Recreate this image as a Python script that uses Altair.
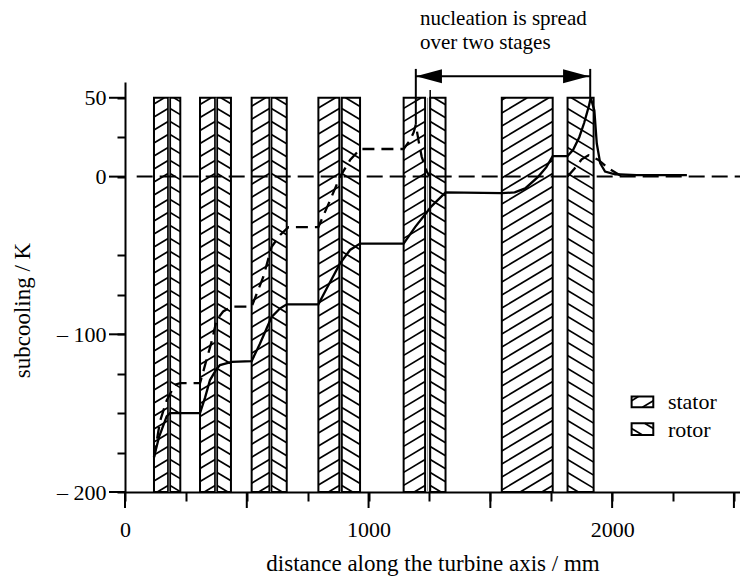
import altair as alt
import pandas as pd

# ---------------- data ----------------
# blade rows, axial positions in mm
stator_start = [119, 308, 520, 794, 1144, 1547]
stator_end   = [177, 370, 593, 880, 1232, 1756]
rotor_start  = [185, 378, 601, 890, 1253, 1817]
rotor_end    = [227, 435, 664, 965, 1316, 1924]
blade_hub, blade_tip = -200, 50

# solid curve
solid_x = [119, 140, 171, 185, 308, 329, 349, 376, 390, 438, 520, 554, 602, 637, 664,
           794, 828, 883, 924, 965, 1144, 1191, 1232, 1257, 1316, 1547, 1600, 1643, 1697,
           1730, 1756, 1817, 1840, 1865, 1885, 1905, 1912, 1927, 1937, 1951, 1971, 2012,
           2100, 2307]
solid_y = [-178, -165, -152, -150, -150, -140, -129, -122, -119.5, -117.5, -117, -106, -89,
           -83.5, -81, -81, -71, -55, -46.5, -42.5, -42.5, -32, -24, -19, -10, -10.5, -10,
           -7.5, 0, 6, 13, 13, 17, 25, 34, 45, 50, 42, 21, 8.5, 3.2, 1.5, 1, 1]

# dashed curve (two pieces)
dashed_x = [119, 144, 171, 205, 227, 308, 335, 356, 376, 403, 438, 520, 568, 602, 637, 671,
            794, 842, 883, 924, 965, 1144, 1170, 1185, 1194, 1205, 1218, 1239, 1250,
            1817, 1845, 1875, 1903, 1944, 1985, 2030, 2060]
dashed_y = [-178, -155, -142, -132, -131, -131, -116, -104.5, -91, -85.5, -82.5, -82.5, -63.5,
            -44.5, -37, -32, -32, -15, 0, 10.5, 17.5, 17.5, 23, 28, 33, 23, 12.7, 3.2, 0.5,
            0, 5, 11, 13.5, 10.6, 5.3, 1, 0]
dashed_seg = [1] * 29 + [2] * 8

# zero reference line
zero_x = [48, 2525]

# extra edge line above rotor 5
edge_x = [1253]
edge_top = [55]

# annotation
note_lines = ["nucleation is spread", "over two stages"]
note_x = 1211
note_y = [96.2, 81]
arrow_x = [1194, 1910]
arrow_level = 63.6
bar_top = 68.3
bar_bottom = [33, 50]
head_x = [1248, 1852]
head_dir = ["left", "right"]

# legend
legend_labels = ["stator", "rotor"]
legend_box_x = [2080, 2169]
legend_box_y1 = [-146.2, -163.8]
legend_box_y2 = [-139.5, -156.4]
legend_text_x = 2229
legend_text_y = [-142.9, -160.6]

# axes
x_ticks = list(range(0, 2501, 250))
x_long = list(range(0, 2501, 500))
x_labeled = [0, 1000, 2000]
y_ticks = [50, 25, 0, -50, -75, -100, -125, -150, -175, -200]
y_labeled = [50, 0, -100, -200]

# ---------------- layout constants ----------------
W, H = 615, 410
X_DOM = [0, 2525]
Y_DOM = [-200, 60]
px_mm = W / (X_DOM[1] - X_DOM[0])
px_k = H / (Y_DOM[1] - Y_DOM[0])
TAN = 0.6
K = TAN * px_mm / px_k          # hatch slope in data units
S = 13 / px_k                    # hatch vertical spacing in data units
FONT = "Liberation Serif"
LONG_TICK = 16

xs = alt.Scale(domain=X_DOM, nice=False, zero=False)
ys = alt.Scale(domain=Y_DOM, nice=False, zero=False)

common_axis = dict(
    labelFlush=False, labelOverlap=False, labelBound=False,
    grid=False, domainColor="black", domainWidth=2, tickColor="black", tickWidth=2,
    labelColor="black", titleColor="black", labelFont=FONT, titleFont=FONT,
    labelFontSize=22, titleFontSize=23, titleFontWeight="normal",
)
x_axis = alt.Axis(
    values=x_ticks,
    labelExpr=f"indexof({x_labeled}, datum.value) >= 0 ? format(datum.value, 'd') : ''",
    tickSize=9, labelPadding=18,
    title="distance along the turbine axis / mm",
    titleY=78, titleBaseline="alphabetic",
    **common_axis,
)
y_axis = alt.Axis(
    values=y_ticks,
    labelExpr=(f"indexof({y_labeled}, datum.value) < 0 ? '' : "
               "(datum.value < 0 ? '\u2013 ' + abs(datum.value) : '' + datum.value)"),
    tickSize=8, labelPadding=11,
    title="subcooling / K",
    titleX=-103, titleY=228, titleAngle=270, titleAlign="center", titleBaseline="middle",
    **common_axis,
)


def X(f):
    return alt.X(f, type="quantitative", scale=xs, axis=x_axis)


def Y(f):
    return alt.Y(f, type="quantitative", scale=ys, axis=y_axis)


# ---------------- tables ----------------
blocks = pd.DataFrame({
    "x1": stator_start + rotor_start,
    "x2": stator_end + rotor_end,
    "kind": ["stator"] * len(stator_start) + ["rotor"] * len(rotor_start),
})
blocks["y1"] = blade_hub
blocks["y2"] = blade_tip

legend_boxes = pd.DataFrame({
    "x1": [legend_box_x[0]] * 2,
    "x2": [legend_box_x[1]] * 2,
    "kind": legend_labels,
    "y1": legend_box_y1,
    "y2": legend_box_y2,
})
hatch_src = pd.concat([blocks, legend_boxes], ignore_index=True)

gaps = pd.DataFrame({"se": stator_end[:5], "rs": rotor_start[:5]})
gaps["y1"] = blade_hub
gaps["y2"] = blade_tip

solid = pd.DataFrame({"x": solid_x, "y": solid_y, "i": range(len(solid_x))})
dashed = pd.DataFrame({"x": dashed_x, "y": dashed_y, "seg": dashed_seg,
                       "i": range(len(dashed_x))})
zero = pd.DataFrame({"x": [zero_x[0]], "x2": [zero_x[1]], "y": [0]})
edge = pd.DataFrame({"x": edge_x, "y": [blade_hub] * len(edge_x), "y2": edge_top})
arrow = pd.DataFrame({"x": [arrow_x[0]], "x2": [arrow_x[1]], "y": [arrow_level]})
bars = pd.DataFrame({"x": arrow_x, "y": [bar_top] * 2, "y2": bar_bottom})
heads = pd.DataFrame({"x": head_x, "y": [arrow_level] * 2, "dir": head_dir})
notes = pd.DataFrame({"t": note_lines, "x": [note_x] * 2, "y": note_y})
leg_text = pd.DataFrame({"t": legend_labels, "x": [legend_text_x] * 2, "y": legend_text_y})
x_long_df = pd.DataFrame({"v": x_long})
y_long_df = pd.DataFrame({"v": y_labeled})

# ---------------- layers ----------------
block_fill = alt.Chart(blocks).mark_rect(fill="white", strokeWidth=0).encode(
    x=X("x1"), x2="x2", y=Y("y1"), y2="y2",
)

# long ticks on both axes
x_long_ticks = alt.Chart(x_long_df).mark_rule(color="black", strokeWidth=2).encode(
    x=X("v"), y=alt.value(H), y2=alt.value(H + LONG_TICK)
)
y_long_ticks = alt.Chart(y_long_df).mark_rule(color="black", strokeWidth=2).encode(
    y=Y("v"), x=alt.value(0), x2=alt.value(-LONG_TICK)
)

hatch = alt.Chart(hatch_src).transform_calculate(
    d="datum.kind === 'stator' ? 1 : -1",
    xa="datum.kind === 'stator' ? datum.x1 : datum.x2",
    w="datum.x2 - datum.x1",
    h="datum.y2 - datum.y1",
).transform_calculate(
    cs=f"sequence(-{K}*datum.w + {S}*0.5, datum.h, {S})"
).transform_flatten(["cs"], as_=["c"]).transform_calculate(
    us=f"max(0, -datum.c/{K})",
    ue=f"min(datum.w, (datum.h - datum.c)/{K})",
).transform_filter("datum.us < datum.ue").transform_calculate(
    xs="datum.xa + datum.d*datum.us",
    xe="datum.xa + datum.d*datum.ue",
    ys=f"datum.y1 + datum.c + {K}*datum.us",
    ye=f"datum.y1 + datum.c + {K}*datum.ue",
).mark_rule(color="black", strokeWidth=1.7).encode(
    x=X("xs"), x2="xe", y=Y("ys"), y2="ye"
)

outline = alt.Chart(hatch_src).mark_rect(fill=None, stroke="black", strokeWidth=2).encode(
    x=X("x1"), x2="x2", y=Y("y1"), y2="y2"
)

gap_lines = alt.Chart(gaps).transform_calculate(
    gx="(datum.se + datum.rs)/2"
).mark_rule(color="#888888", strokeWidth=1).encode(
    x=X("gx"), y=Y("y1"), y2="y2"
)

edge_line = alt.Chart(edge).mark_rule(color="black", strokeWidth=1.5).encode(
    x=X("x"), y=Y("y"), y2="y2"
)

zero_line = alt.Chart(zero).mark_rule(color="black", strokeWidth=2, strokeDash=[16, 7]).encode(
    x=X("x"), x2="x2", y=Y("y")
)

solid_line = alt.Chart(solid).mark_line(color="black", strokeWidth=2.3).encode(
    x=X("x"), y=Y("y"), order="i:Q"
)

dashed_line = alt.Chart(dashed).mark_line(color="black", strokeWidth=2.3,
                                          strokeDash=[12, 7]).encode(
    x=X("x"), y=Y("y"), order="i:Q", detail="seg:N"
)

arrow_line = alt.Chart(arrow).mark_rule(color="black", strokeWidth=2).encode(
    x=X("x"), x2="x2", y=Y("y")
)
bar_lines = alt.Chart(bars).mark_rule(color="black", strokeWidth=2).encode(
    x=X("x"), y=Y("y"), y2="y2"
)
path_left = "M-1,0L1,-0.54L1,0.54Z"
path_right = "M1,0L-1,-0.54L-1,0.54Z"
head_marks = alt.Chart(heads).mark_point(filled=True, size=676, color="black",
                                         opacity=1).encode(
    x=X("x"), y=Y("y"),
    shape=alt.Shape("dir:N", scale=alt.Scale(domain=head_dir, range=[path_left, path_right]),
                    legend=None),
)

note_text = alt.Chart(notes).mark_text(align="left", baseline="alphabetic", font=FONT,
                                       fontSize=21, color="black").encode(
    x=X("x"), y=Y("y"), text="t:N"
)
legend_text = alt.Chart(leg_text).mark_text(align="left", baseline="middle", font=FONT,
                                            fontSize=22, color="black").encode(
    x=X("x"), y=Y("y"), text="t:N"
)

chart = alt.layer(
    block_fill, hatch, outline, gap_lines, edge_line, zero_line, dashed_line, solid_line,
    arrow_line, bar_lines, head_marks, note_text, legend_text, x_long_ticks, y_long_ticks,
).properties(
    width=W, height=H,
    padding={"left": 125, "top": 82, "right": 0, "bottom": 85},
    autosize=alt.AutoSizeParams(type="none"),
    background="white",
).configure(
    font=FONT,
    view=alt.ViewConfig(strokeWidth=0, stroke="transparent"),
)

chart.save("out.html", embed_options={"renderer": "svg", "actions": False})
